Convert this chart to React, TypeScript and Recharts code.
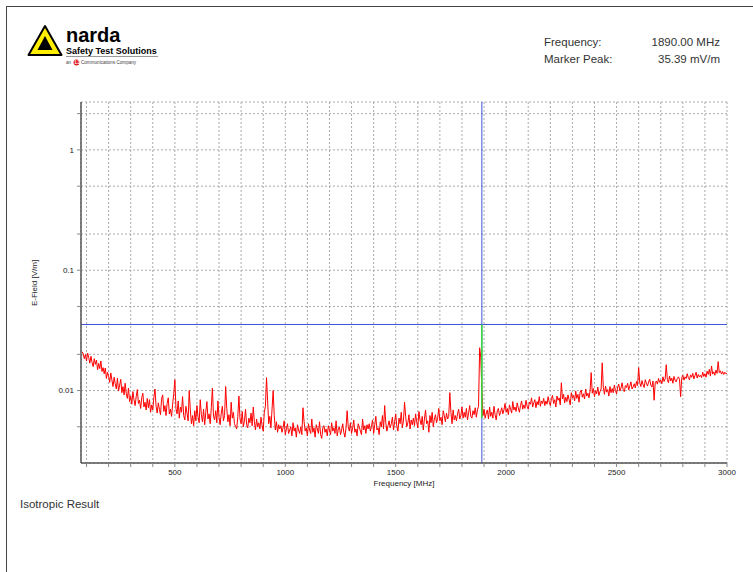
import {
  LineChart,
  Line,
  XAxis,
  YAxis,
  CartesianGrid,
  ReferenceLine,
} from "recharts";

// sweep: one reading every 5 MHz starting at 80 MHz, values in mV/m
const START_MHZ = 80;
const STEP_MHZ = 5;

// 80 .. 975 MHz
const sweepLow = [
  21.0, 20.2, 18.4, 19.9, 17.6, 20.5, 18.8, 16.9, 19.3, 17.1, 15.8, 18.4, 16.5, 17.9, 14.9, 16.8, 15.2, 17.6, 14.4, 15.5,
  13.8, 15.4, 12.6, 14.2, 13.1, 11.7, 14.0, 12.2, 10.8, 12.9, 11.4, 10.3, 12.7, 9.9, 11.1, 12.4, 9.6, 10.8, 9.2, 11.5,
  9.4, 8.6, 10.5, 8.1, 9.0, 7.7, 9.8, 8.4, 7.5, 8.9, 10.2, 7.8, 8.3, 7.1, 8.7, 9.5, 7.3, 8.0, 6.9, 8.6,
  7.2, 8.4, 6.6, 7.6, 6.9, 8.8, 10.3, 7.4, 6.5, 7.9, 7.0, 6.3, 8.6, 9.2, 6.7, 7.5, 6.2, 7.8, 8.7, 6.4,
  7.0, 6.1, 7.7, 9.4, 12.3, 7.1, 6.4, 8.2, 5.9, 7.3, 6.6, 8.9, 6.2, 5.7, 7.4, 6.5, 5.6, 10.0, 6.9, 5.3,
  6.2, 5.1, 6.8, 5.6, 7.5, 6.0, 5.4, 8.4, 6.3, 5.5, 7.0, 5.2, 6.6, 8.1, 5.8, 6.4, 5.3, 7.2, 10.5, 6.1,
  5.7, 6.8, 5.4, 8.2, 6.0, 5.2, 6.5, 7.4, 5.6, 6.2, 10.8, 7.1, 5.5, 6.3, 5.1, 8.0, 5.9, 6.6, 5.3, 5.0,
  4.8, 6.1, 9.0, 5.8, 5.3, 6.7, 5.0, 5.6, 7.0, 5.2, 4.9, 5.9, 5.4, 6.5, 5.1, 7.3, 5.5, 4.7, 5.8, 5.0,
  5.4, 4.8, 6.0, 5.1, 4.6, 6.6, 7.4, 12.8, 8.2, 5.3, 6.1, 4.9, 7.0, 10.0, 6.2, 4.7, 5.5, 4.5, 5.2, 4.8,
];

// 980 .. 1875 MHz
const sweepMid = [
  5.1, 4.5, 4.9, 5.6, 4.3, 4.8, 5.3, 4.4, 4.7, 5.0, 4.2, 5.4, 4.6, 4.9, 4.1, 5.2, 4.7, 4.4, 5.0, 4.3,
  7.2, 5.5, 4.6, 4.9, 4.2, 5.3, 4.7, 4.4, 5.8, 4.5, 4.9, 4.1, 5.2, 4.8, 4.4, 5.5, 4.3, 4.0, 4.9, 5.1,
  4.5, 4.8, 4.2, 5.1, 4.7, 4.3, 5.4, 4.6, 4.9, 4.4, 5.6, 4.2, 4.8, 5.0, 4.3, 4.7, 5.3, 4.5, 4.1, 4.9,
  6.8, 5.0, 4.6, 5.4, 4.4, 4.9, 5.7, 4.5, 4.8, 4.2, 5.3, 5.0, 4.6, 4.3, 5.8, 4.7, 5.1, 4.4, 5.2, 4.8,
  5.3, 4.6, 5.0, 5.7, 4.4, 5.2, 6.1, 4.7, 4.9, 4.3, 5.5, 5.0, 6.2, 4.8, 7.5, 5.4, 4.6, 5.1, 5.6, 4.9,
  5.3, 6.0, 4.7, 5.5, 6.4, 5.0, 4.6, 5.9, 5.3, 6.6, 4.9, 5.6, 8.0, 6.1, 5.0, 5.4, 6.3, 4.8, 5.7, 5.2,
  5.9, 5.1, 6.4, 5.5, 4.9, 6.7, 5.7, 5.2, 6.1, 4.7, 5.8, 6.9, 5.3, 5.6, 4.5, 6.2, 5.4, 6.6, 5.0, 5.8,
  6.3, 5.4, 5.9, 7.1, 5.6, 6.0, 5.2, 6.8, 6.2, 5.5, 6.5, 5.8, 6.1, 9.6, 6.6, 5.3, 6.9, 5.7, 6.2, 5.6,
  6.4, 7.0, 5.8, 6.2, 7.3, 5.9, 6.6, 6.0, 7.1, 5.7, 6.5, 7.5, 6.1, 5.9, 6.8, 6.3, 7.2, 6.0, 6.9, 7.4,
];

// 1880 .. 3000 MHz
const sweepHigh = [
  22.7, 19.0, 10.2, 6.2, 7.0, 5.9, 6.5, 6.9, 5.8, 7.3, 6.1, 6.6, 5.9, 7.4, 6.3, 5.7, 6.8, 7.1, 6.2, 6.6,
  7.2, 6.4, 6.9, 7.8, 6.6, 7.1, 6.3, 7.6, 7.0, 6.5, 8.1, 6.9, 7.3, 6.7, 7.9, 7.2, 6.6, 7.5, 8.2, 7.0,
  7.6, 7.1, 8.3, 7.4, 7.0, 8.0, 7.7, 8.7, 7.3, 7.9, 8.4, 7.2, 8.1, 7.6, 8.9, 7.4, 8.2, 7.8, 8.6, 7.5,
  8.2, 7.7, 8.9, 8.0, 7.5, 8.6, 9.1, 7.8, 8.4, 7.3, 9.0, 8.3, 8.7, 7.6, 11.6, 8.5, 9.3, 7.9, 8.8, 8.1,
  9.2, 8.4, 7.6, 9.6, 8.7, 9.1, 8.2, 9.9, 8.6, 9.3, 8.0, 9.7, 10.1, 8.8, 9.4, 8.5, 10.3, 9.0, 9.5, 8.7,
  9.9, 14.1, 9.5, 10.4, 8.9, 10.0, 9.4, 10.7, 9.1, 9.8, 10.3, 17.0, 10.6, 9.3, 10.9, 9.7, 10.2, 9.0, 10.8, 9.6,
  10.4, 9.6, 11.1, 10.0, 9.4, 10.7, 11.3, 9.9, 10.5, 11.6, 10.2, 9.8, 11.0, 10.6, 11.5, 10.1, 10.9, 11.8, 10.3, 10.7,
  11.4, 10.5, 11.9, 11.0, 15.5, 11.6, 10.8, 12.1, 11.2, 10.6, 12.3, 11.5, 10.9, 11.8, 12.4, 11.1, 10.7, 12.0, 8.3, 11.6,
  12.0, 11.3, 12.6, 11.7, 12.2, 11.4, 13.0, 11.9, 12.5, 16.4, 12.3, 11.6, 13.2, 12.0, 12.7, 11.5, 13.1, 12.2, 11.8, 12.6,
  13.0, 12.4, 8.9, 12.7, 13.4, 12.2, 13.0, 12.6, 13.8, 12.8, 12.3, 13.5, 12.9, 13.9, 12.5, 13.3, 14.2, 12.7, 13.6, 13.0,
  13.4, 12.8, 14.2, 13.1, 13.8, 12.9, 14.5, 13.6, 15.0, 13.2, 16.0, 13.7, 14.3, 13.4, 14.8, 13.9, 17.4, 14.1, 14.6, 13.7,
  14.4, 13.6, 14.2, 13.8, 13.9,
];

const markerFreq = 1890; // MHz
const markerPeak = 35.39; // mV/m
const markerFloor = 5.9; // mV/m, where the green marker stem ends

const xTicks = [
  100, 200, 300, 400, 500, 600, 700, 800, 900, 1000,
  1100, 1200, 1300, 1400, 1500, 1600, 1700, 1800, 1900, 2000,
  2100, 2200, 2300, 2400, 2500, 2600, 2700, 2800, 2900, 3000,
];
const xLabels = [500, 1000, 1500, 2000, 2500, 3000];
const yTicks = [0.005, 0.01, 0.02, 0.05, 0.1, 0.2, 0.5, 1, 2];
const yLabels = [0.01, 0.1, 1];

const data = [...sweepLow, ...sweepMid, ...sweepHigh].map((mv, i) => ({
  f: START_MHZ + i * STEP_MHZ,
  v: mv / 1000,
}));

const FONT = "'Liberation Sans', Arial, sans-serif";
const tickStyle = { fontSize: 8, fill: "#222", fontFamily: FONT };

function Logo() {
  return (
    <svg width={170} height={80} style={{ position: "absolute", left: 0, top: 0 }}>
      <polygon points="45,26 28.5,55 61.5,55" fill="#ffee00" stroke="#000" strokeWidth={2} strokeLinejoin="round" />
      <polygon points="45,36 37.5,50 52.5,50" fill="#000" />
      <text x={66} y={42} fontFamily={FONT} fontWeight="bold" fontSize={20} fill="#000">
        narda
      </text>
      <text x={66} y={54} fontFamily={FONT} fontWeight="bold" fontSize={9} fill="#000">
        Safety Test Solutions
      </text>
      <line x1={66} y1={56.5} x2={158} y2={56.5} stroke="#999" strokeWidth={1} />
      <text x={66} y={64} fontFamily={FONT} fontSize={4.6} fill="#444">
        an
      </text>
      <circle cx={76.5} cy={62.5} r={3} fill="#e02020" />
      <text x={74.8} y={64.2} fontFamily={FONT} fontWeight="bold" fontSize={4.5} fill="#fff">
        L3
      </text>
      <text x={81} y={64} fontFamily={FONT} fontSize={4.6} fill="#444">
        Communications Company
      </text>
    </svg>
  );
}

export default function App() {
  return (
    <div
      style={{
        position: "absolute",
        left: 0,
        top: 0,
        width: 753,
        height: 572,
        background: "#fff",
        fontFamily: FONT,
        color: "#333",
        overflow: "hidden",
      }}
    >
      <div
        style={{
          position: "absolute",
          left: 6,
          top: 6,
          width: 760,
          height: 600,
          borderLeft: "1px solid #444",
          borderTop: "1px solid #444",
        }}
      />
      <Logo />

      <div style={{ position: "absolute", left: 544, top: 35, fontSize: 11.5, lineHeight: "14px" }}>
        Frequency:
      </div>
      <div style={{ position: "absolute", right: 33, top: 35, fontSize: 11.5, lineHeight: "14px" }}>
        {markerFreq.toFixed(2)} MHz
      </div>
      <div style={{ position: "absolute", left: 544, top: 52, fontSize: 11.5, lineHeight: "14px" }}>
        Marker Peak:
      </div>
      <div style={{ position: "absolute", right: 33, top: 52, fontSize: 11.5, lineHeight: "14px" }}>
        {markerPeak.toFixed(2)} mV/m
      </div>

      <div style={{ position: "absolute", left: 0, top: 0 }}>
        <LineChart
          width={753}
          height={572}
          data={data}
          margin={{ top: 102, right: 26, bottom: 79, left: 41 }}
        >
          <CartesianGrid stroke="#aaa" strokeDasharray="2 2" />
          <XAxis
            dataKey="f"
            type="number"
            domain={[75, 3000]}
            allowDataOverflow
            ticks={xTicks}
            interval={0}
            tickFormatter={(t: number) => (xLabels.includes(t) ? String(t) : "")}
            tick={tickStyle}
            tickSize={4}
            tickMargin={2}
            height={30}
            axisLine={{ stroke: "#555", strokeWidth: 1.5 }}
            tickLine={{ stroke: "#888" }}
          />
          <YAxis
            dataKey="v"
            scale="log"
            domain={[0.0025, 2.5]}
            allowDataOverflow
            ticks={yTicks}
            interval={0}
            tickFormatter={(t: number) => (yLabels.includes(t) ? String(t) : "")}
            tick={tickStyle}
            tickSize={4}
            tickMargin={3}
            width={40}
            axisLine={{ stroke: "#555", strokeWidth: 1.5 }}
            tickLine={{ stroke: "#888" }}
          />
          <ReferenceLine y={markerPeak / 1000} stroke="#4455dd" strokeWidth={1} />
          <ReferenceLine x={markerFreq} stroke="#4455dd" strokeWidth={1} />
          <Line
            type="linear"
            dataKey="v"
            stroke="#ff0000"
            strokeWidth={1}
            dot={false}
            isAnimationActive={false}
          />
          <ReferenceLine
            segment={[
              { x: markerFreq, y: markerPeak / 1000 },
              { x: markerFreq, y: markerFloor / 1000 },
            ]}
            stroke="#33dd33"
            strokeWidth={1.5}
          />
        </LineChart>
      </div>

      <div
        style={{
          position: "absolute",
          left: 34,
          top: 283,
          fontSize: 8,
          color: "#222",
          whiteSpace: "nowrap",
          transform: "translate(-50%, -50%) rotate(-90deg)",
        }}
      >
        E-Field [V/m]
      </div>
      <div
        style={{
          position: "absolute",
          left: 404,
          top: 483,
          fontSize: 8,
          color: "#222",
          whiteSpace: "nowrap",
          transform: "translate(-50%, -50%)",
        }}
      >
        Frequency [MHz]
      </div>
      <div style={{ position: "absolute", left: 20, top: 497, fontSize: 11.5, lineHeight: "14px" }}>
        Isotropic Result
      </div>
    </div>
  );
}
